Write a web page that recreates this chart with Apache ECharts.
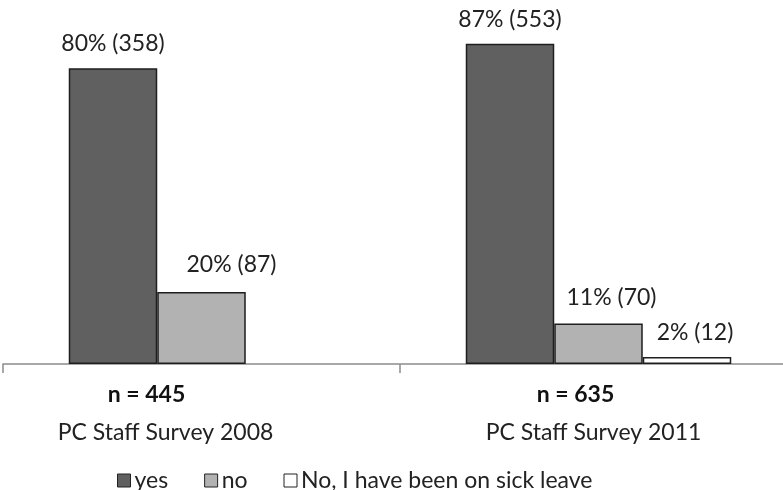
<!DOCTYPE html>
<html>
<head>
<meta charset="utf-8">
<script src="https://cdn.jsdelivr.net/npm/echarts@6/dist/echarts.min.js"></script>
<style>
  html, body { margin: 0; padding: 0; background: #fff; }
  #chart { width: 783px; height: 490px; }
</style>
</head>
<body>
<div id="chart"></div>
<script>
// survey data
const categories = ["PC Staff Survey 2008", "PC Staff Survey 2011"];
const sampleSizes = [445, 635];
const seriesNames = ["yes", "no", "No, I have been on sick leave"];
const yesValues = [80.4, 87.1];
const noValues = [19.6, 11.0];
const sickValues = [null, 1.9];
const yesCounts = [358, 553];
const noCounts = [87, 70];
const sickCounts = [null, 12];

const FONT = "Lato, 'Open Sans', sans-serif";
const FS = 23;
const textColor = "#222";

// label nudges like the hand-placed labels in the original
const labelNudge = {
  yes: [[0, 0], [0, 0]],
  no: [[30, -3], [13, -1]],
  sick: [[0, 0], [8, 0]]
};

function makeData(values, counts, nudge) {
  return values.map((v, i) => {
    if (v == null) return "-";
    return {
      value: v,
      label: {
        offset: nudge[i],
        formatter: Math.round(v) + "% (" + counts[i] + ")"
      }
    };
  });
}

const chart = echarts.init(document.getElementById("chart"));

const barBase = {
  type: "bar",
  barWidth: 88.5,
  barGap: "0%",
  label: {
    show: true,
    position: "top",
    distance: 13,
    fontFamily: FONT,
    fontSize: FS,
    color: textColor
  }
};

const option = {
  animation: false,
  backgroundColor: "#fff",
  grid: { left: 3, width: 794, top: 33, bottom: 126, containLabel: false, outerBoundsMode: "none" },
  legend: {
    data: seriesNames,
    left: 112,
    top: 464,
    itemWidth: 13,
    itemHeight: 13,
    itemGap: 36,
    icon: "rect",
    textStyle: { fontFamily: FONT, fontSize: FS, color: textColor, padding: [0, 0, 0, -1] },
    itemStyle: { borderColor: "#222", borderWidth: 1 }
  },
  xAxis: {
    type: "category",
    data: categories,
    axisLine: { lineStyle: { color: "#8c8c8c", width: 1.5 } },
    axisTick: { show: true, length: 9, lineStyle: { color: "#8c8c8c", width: 1.5 } },
    axisLabel: {
      margin: 12,
      interval: 0,
      formatter: (value, idx) =>
        "{n" + idx + "|n = " + sampleSizes[idx] + "}\n{c" + idx + "|" + value + "}",
      rich: {
        n0: { fontFamily: FONT, fontSize: FS, fontWeight: "bold", color: "#111", lineHeight: 38, padding: [0, 110, 0, 0] },
        c0: { fontFamily: FONT, fontSize: FS, color: textColor, lineHeight: 38, padding: [0, 72, 0, 0] },
        n1: { fontFamily: FONT, fontSize: FS, fontWeight: "bold", color: "#111", lineHeight: 38, padding: [0, 46, 0, 0] },
        c1: { fontFamily: FONT, fontSize: FS, color: textColor, lineHeight: 38, padding: [0, 10, 0, 0] }
      }
    }
  },
  yAxis: {
    type: "value",
    min: 0,
    max: 90,
    show: false,
    splitLine: { show: false }
  },
  series: [
    Object.assign({}, barBase, {
      name: seriesNames[0],
      itemStyle: { color: "#606060", borderColor: "#1e1e1e", borderWidth: 1.5 },
      data: makeData(yesValues, yesCounts, labelNudge.yes)
    }),
    Object.assign({}, barBase, {
      name: seriesNames[1],
      itemStyle: { color: "#b2b2b2", borderColor: "#1e1e1e", borderWidth: 1.5 },
      data: makeData(noValues, noCounts, labelNudge.no)
    }),
    Object.assign({}, barBase, {
      name: seriesNames[2],
      itemStyle: { color: "#ffffff", borderColor: "#1e1e1e", borderWidth: 1.5 },
      data: makeData(sickValues, sickCounts, labelNudge.sick)
    })
  ]
};

chart.setOption(option);
</script>
</body>
</html>
